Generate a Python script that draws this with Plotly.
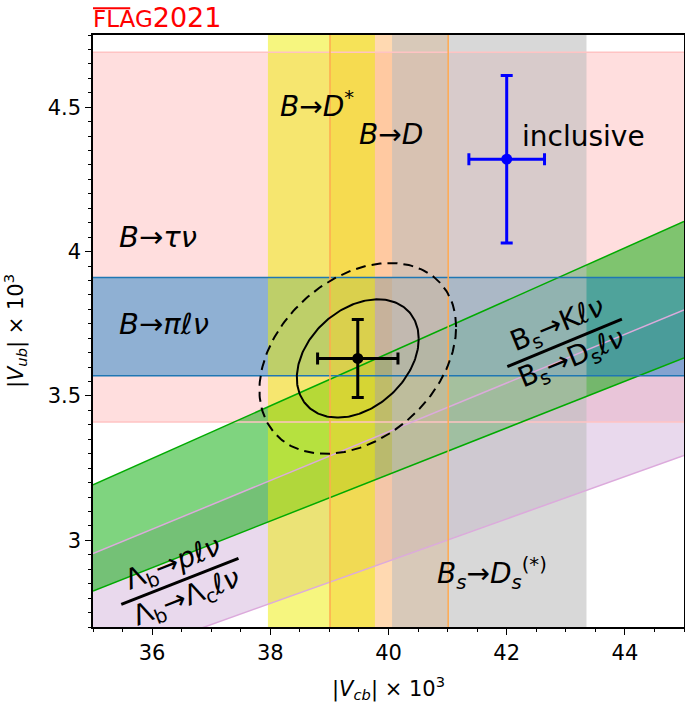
import numpy as np
import plotly.graph_objects as go

# axis window (|Vcb| x 1e3, |Vub| x 1e3)
x_range = [35, 45]
y_range = [2.7, 4.75]
x_ticks = [36, 38, 40, 42, 44]
y_ticks = [3, 3.5, 4, 4.5]
y_ticktext = ["3", "3.5", "4", "4.5"]

# |Vub| bands
btau_vub = [3.41, 4.69]
bpi_vub = [3.57, 3.91]

# |Vcb| bands
bdstar_vcb = [37.96, 39.77]
bd_vcb = [39.01, 41.01]
bsds_vcb = [40.06, 43.35]

# |Vub|/|Vcb| bands
lambda_ratio = [0.0807, 0.0912]
bsk_ratio = [0.0732, 0.0844]

# FLAG average with correlation
avg_vcb, avg_vcb_err = 39.48, 0.68
avg_vub, avg_vub_err = 3.63, 0.135
avg_rho = 0.33
chi2_levels = [2.30, 5.99]

# inclusive determination
incl_vcb, incl_vcb_err = 42.00, 0.64
incl_vub, incl_vub_err = 4.32, 0.29

PINK = "rgba(255,190,190,0.5)"
PURPLE = "rgba(200,160,210,0.4)"
GREEN = "rgba(0,170,0,0.5)"
BLUE = "rgba(31,130,200,0.5)"
YELLOW = "rgba(238,238,0,0.5)"
ORANGE = "rgba(255,180,100,0.5)"
GREY = "rgba(190,190,190,0.6)"

fig = go.Figure()


def add_fill(xs, ys, color):
    fig.add_trace(go.Scatter(
        x=xs, y=ys, mode="lines", fill="toself", fillcolor=color,
        line=dict(width=0), hoverinfo="skip", showlegend=False,
    ))


def hband(b, color):
    add_fill([x_range[0], x_range[1], x_range[1], x_range[0], x_range[0]],
             [b[0], b[0], b[1], b[1], b[0]], color)


def vband(b, color):
    add_fill([b[0], b[1], b[1], b[0], b[0]],
             [y_range[0], y_range[0], y_range[1], y_range[1], y_range[0]], color)


def rband(r, color):
    xa, xb = x_range
    add_fill([xa, xb, xb, xa, xa],
             [r[0] * xa, r[0] * xb, r[1] * xb, r[1] * xa, r[0] * xa], color)


def edges(xs, ys, color, width=1.5, dash="solid"):
    fig.add_trace(go.Scatter(
        x=xs, y=ys, mode="lines", line=dict(color=color, width=width, dash=dash),
        hoverinfo="skip", showlegend=False,
    ))


# fills, back to front
hband(btau_vub, PINK)
rband(bsk_ratio, PURPLE)
rband(lambda_ratio, GREEN)
hband(bpi_vub, BLUE)
vband(bd_vcb, ORANGE)
vband(bdstar_vcb, YELLOW)
vband(bsds_vcb, GREY)

# band edges on top
xa, xb = x_range
ya, yb = y_range
edges([xa, xb, None, xa, xb], [btau_vub[0], btau_vub[0], None, btau_vub[1], btau_vub[1]],
      "rgb(255,195,195)")
edges([xa, xb, None, xa, xb], [bsk_ratio[0] * xa, bsk_ratio[0] * xb, None,
                               bsk_ratio[1] * xa, bsk_ratio[1] * xb], "rgb(220,170,220)")
edges([xa, xb, None, xa, xb], [lambda_ratio[0] * xa, lambda_ratio[0] * xb, None,
                               lambda_ratio[1] * xa, lambda_ratio[1] * xb], "rgb(0,170,0)")
edges([xa, xb, None, xa, xb], [bpi_vub[0], bpi_vub[0], None, bpi_vub[1], bpi_vub[1]],
      "rgb(31,119,180)")
edges([bd_vcb[0], bd_vcb[0], None, bd_vcb[1], bd_vcb[1]], [ya, yb, None, ya, yb],
      "rgb(255,170,80)")

# confidence ellipses of the average
t = np.linspace(0, 2 * np.pi, 240)
for level, dash in zip(chi2_levels, ["solid", "10px,6px"]):
    k = np.sqrt(level)
    ex = avg_vcb + k * avg_vcb_err * np.cos(t)
    ey = avg_vub + k * avg_vub_err * (avg_rho * np.cos(t) + np.sqrt(1 - avg_rho ** 2) * np.sin(t))
    edges(list(ex), list(ey), "black", width=2, dash=dash)

# points with error bars
for cx, cxe, cy, cye, col in [
    (avg_vcb, avg_vcb_err, avg_vub, avg_vub_err, "black"),
    (incl_vcb, incl_vcb_err, incl_vub, incl_vub_err, "blue"),
]:
    fig.add_trace(go.Scatter(
        x=[cx], y=[cy], mode="markers", marker=dict(color=col, size=11),
        error_x=dict(type="data", array=[cxe], color=col, thickness=3, width=6),
        error_y=dict(type="data", array=[cye], color=col, thickness=3, width=6),
        hoverinfo="skip", showlegend=False,
    ))

LBL = dict(family="DejaVu Sans", size=28, color="black")


def label(x, y, text, angle=0, anchor="left", size=28):
    fig.add_annotation(x=x, y=y, xref="x", yref="y", text=text, showarrow=False,
                       xanchor=anchor, yanchor="middle", textangle=angle,
                       font=dict(LBL, size=size))


label(38.13, 4.51, "<i>B</i>→<i>D</i><sup>*</sup>")
label(39.46, 4.405, "<i>B</i>→<i>D</i>")
label(42.22, 4.40, "inclusive", size=28)
label(35.40, 4.05, "<i>B</i>→<i>τν</i>", size=29)
label(35.40, 3.75, "<i>B</i>→<i>πℓν</i>", size=29)
label(40.79, 2.885, "<i>B<sub>s</sub></i>→<i>D<sub>s</sub></i><sup>(*)</sup>")

# rotated ratio labels with a fraction bar
fracs = [
    (42.98, 3.684, "B<sub>s</sub>→K<i>ℓν</i><br>B<sub>s</sub>→D<sub>s</sub><i>ℓν</i>", 22.5, 124),
    (36.47, 2.858, "Λ<sub>b</sub>→<i>pℓν</i><br>Λ<sub>b</sub>→Λ<sub>c</sub><i>ℓν</i>", 21.5, 126),
]
for fx, fy, ftext, fang, flen in fracs:
    fig.add_annotation(x=fx, y=fy, xref="x", yref="y", text=ftext, showarrow=False,
                       xanchor="center", yanchor="middle", textangle=-fang,
                       font=dict(LBL, size=28))
    dx = flen / 2 * np.cos(np.radians(fang))
    dy = flen / 2 * np.sin(np.radians(fang))
    fig.add_shape(type="line", xref="x", yref="y", xsizemode="pixel", ysizemode="pixel",
                  xanchor=fx, yanchor=fy, x0=-dx, x1=dx, y0=-dy, y1=dy,
                  line=dict(color="black", width=3))

# FLAG logo
fig.add_annotation(x=0, y=1.0, xref="paper", yref="paper",
                   text="<span style='font-size:23px'>FLAG</span>2021", showarrow=False,
                   xanchor="left", yanchor="bottom", xshift=-2,
                   font=dict(family="DejaVu Sans", size=27, color="red"))
fig.add_shape(type="line", xref="paper", yref="paper", x0=0.0, x1=0.063, y0=1.045, y1=1.045,
              line=dict(color="red", width=2))

axis_common = dict(
    showline=True, linecolor="black", linewidth=1.5, mirror=True,
    showgrid=False, zeroline=False, automargin=False,
    ticks="outside", ticklen=6, tickwidth=1.3, tickcolor="black",
    tickfont=dict(family="DejaVu Sans", size=21, color="black"),
)
fig.update_xaxes(
    range=x_range, tickvals=x_ticks, **axis_common,
    minor=dict(dtick=0.5, ticks="outside", ticklen=3.5, tickwidth=1, tickcolor="black"),
    title=dict(text="|<i>V<sub>cb</sub></i>| × 10<sup>3</sup>",
               font=dict(family="DejaVu Sans", size=21, color="black"), standoff=20),
)
fig.update_yaxes(
    range=y_range, tickvals=y_ticks, ticktext=y_ticktext, **axis_common,
    minor=dict(dtick=0.05, ticks="outside", ticklen=3.5, tickwidth=1, tickcolor="black"),
    title=dict(text="|<i>V<sub>ub</sub></i>| × 10<sup>3</sup>",
               font=dict(family="DejaVu Sans", size=21, color="black"), standoff=20),
)
fig.update_layout(
    width=685, height=703,
    margin=dict(l=93, r=1, t=35, b=76),
    plot_bgcolor="white", paper_bgcolor="white",
    showlegend=False,
    font=dict(family="DejaVu Sans", color="black"),
)

# drop the default page margin so the figure sits at the window's corner
fig.write_html("out.html", config={"displayModeBar": False},
               post_script="document.body.style.margin='0px';")
